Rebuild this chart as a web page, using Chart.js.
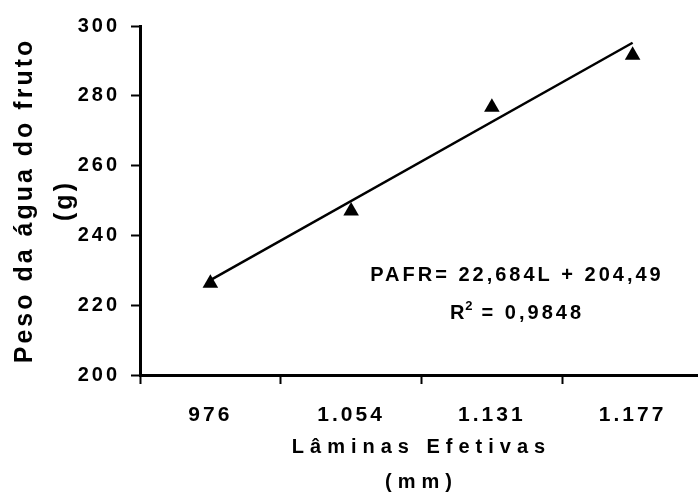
<!DOCTYPE html>
<html>
<head>
<meta charset="utf-8">
<script src="https://cdn.jsdelivr.net/npm/chart.js@4.4.1/dist/chart.umd.min.js"></script>
<style>
html, body { margin: 0; padding: 0; background: #fff; overflow: hidden; }
#wrap { width: 698px; height: 498px; overflow: hidden; }
</style>
</head>
<body>
<div id="wrap"><canvas id="agua-fruto-canvas" width="712" height="504"></canvas></div>
<script>
// dados
const laminas = ['976', '1.054', '1.131', '1.177'];
const pesoAgua = [226.3, 247.0, 276.7, 291.6];
// reta de tendencia (so as pontas)
const tendencia = [227.2, null, null, 295.2];
const yTicks = [200, 220, 240, 260, 280, 300];
const equacao = 'PAFR= 22,684L + 204,49';
const r2 = '0,9848';

const FONT = '"Liberation Sans", Arial, sans-serif';

Chart.defaults.font.family = FONT;
Chart.defaults.font.weight = 'bold';
Chart.defaults.color = '#000';

// espacamento entre letras: 3px em geral, 6px no titulo do eixo x
// (grade/titulo/borda do eixo x ficam em z=1, desenhados depois dos datasets)
const spacing = {
    id: 'spacing',
    beforeLayout(chart) { chart.ctx.letterSpacing = '3px'; },
    beforeDraw(chart) { chart.ctx.letterSpacing = '3px'; },
    afterDatasetsDraw(chart) { chart.ctx.letterSpacing = '6px'; }
};

const equationText = {
    id: 'equationText',
    afterDraw(chart) {
        const ctx = chart.ctx;
        const area = chart.chartArea;
        const y = chart.scales.y;
        const cx = area.left + area.width * 0.666;

        ctx.save();
        ctx.fillStyle = '#000';
        ctx.textBaseline = 'middle';
        ctx.letterSpacing = '3px';
        ctx.font = 'bold 20px ' + FONT;
        ctx.textAlign = 'center';
        ctx.fillText(equacao, cx + 2, y.getPixelForValue(228.4));

        // R² = ...
        const y2 = y.getPixelForValue(217.5);
        const big = 'bold 20px ' + FONT;
        const small = 'bold 13px ' + FONT;
        ctx.font = big;
        const wR = ctx.measureText('R').width;
        const wRest = ctx.measureText('= ' + r2).width;
        ctx.font = small;
        const w2 = ctx.measureText('2').width;
        const total = wR + w2 + 4 + wRest;
        let x = cx - total / 2 + 2;
        ctx.textAlign = 'left';
        ctx.font = big;
        ctx.fillText('R', x, y2);
        x += wR;
        ctx.font = small;
        ctx.fillText('2', x - 2, y2 - 8);
        x += w2 + 4;
        ctx.font = big;
        ctx.fillText('= ' + r2, x, y2);
        ctx.restore();
    }
};

function drawChart() {
    const ctx = document.getElementById('agua-fruto-canvas');

    new Chart(ctx, {
        type: 'line',
        data: {
            labels: laminas,
            datasets: [
                {
                    label: 'tendencia',
                    data: tendencia,
                    spanGaps: true,
                    borderColor: '#000',
                    borderWidth: 2.5,
                    pointRadius: 0,
                    fill: false
                },
                {
                    label: 'PAFR',
                    data: pesoAgua,
                    showLine: false,
                    pointStyle: 'triangle',
                    pointRadius: 9,
                    pointBackgroundColor: '#000',
                    pointBorderColor: '#000',
                    pointBorderWidth: 0
                }
            ]
        },
        options: {
            responsive: false,
            animation: false,
            layout: {
                padding: { top: 26, right: 4, bottom: 0, left: 0 }
            },
            plugins: {
                legend: { display: false },
                tooltip: { enabled: false }
            },
            scales: {
                x: {
                    offset: true,
                    grid: {
                        offset: true,
                        drawOnChartArea: false,
                        drawTicks: true,
                        tickLength: 9,
                        tickWidth: 2,
                        tickColor: '#000',
                        z: 1
                    },
                    border: { display: true, color: '#000', width: 3, z: 1 },
                    ticks: {
                        font: { size: 21, weight: 'bold' },
                        color: '#000',
                        padding: 19,
                        maxRotation: 0
                    },
                    title: {
                        display: true,
                        text: ['Lâminas Efetivas', '(mm)'],
                        font: { size: 20, weight: 'bold', lineHeight: 1.75 },
                        color: '#000',
                        padding: { top: 0, bottom: 4.5 }
                    },
                    afterFit(scale) {
                        scale.height = 129;
                    }
                },
                y: {
                    min: 200,
                    max: 300,
                    afterBuildTicks(scale) {
                        scale.ticks = yTicks.map(v => ({ value: v }));
                    },
                    grid: {
                        drawOnChartArea: false,
                        drawTicks: true,
                        tickLength: 9,
                        tickWidth: 2,
                        tickColor: '#000'
                    },
                    border: { display: true, color: '#000', width: 3 },
                    ticks: {
                        font: { size: 20, weight: 'bold' },
                        color: '#000',
                        padding: 11
                    },
                    title: {
                        display: true,
                        text: ['Peso da água do fruto', '(g)'],
                        font: { size: 25, weight: 'bold', lineHeight: 1.6 },
                        color: '#000',
                        padding: { top: 5, bottom: 0 }
                    },
                    afterFit(scale) {
                        scale.width = 140;
                    }
                }
            }
        },
        plugins: [spacing, equationText]
    });
}

drawChart();
</script>
</body>
</html>
